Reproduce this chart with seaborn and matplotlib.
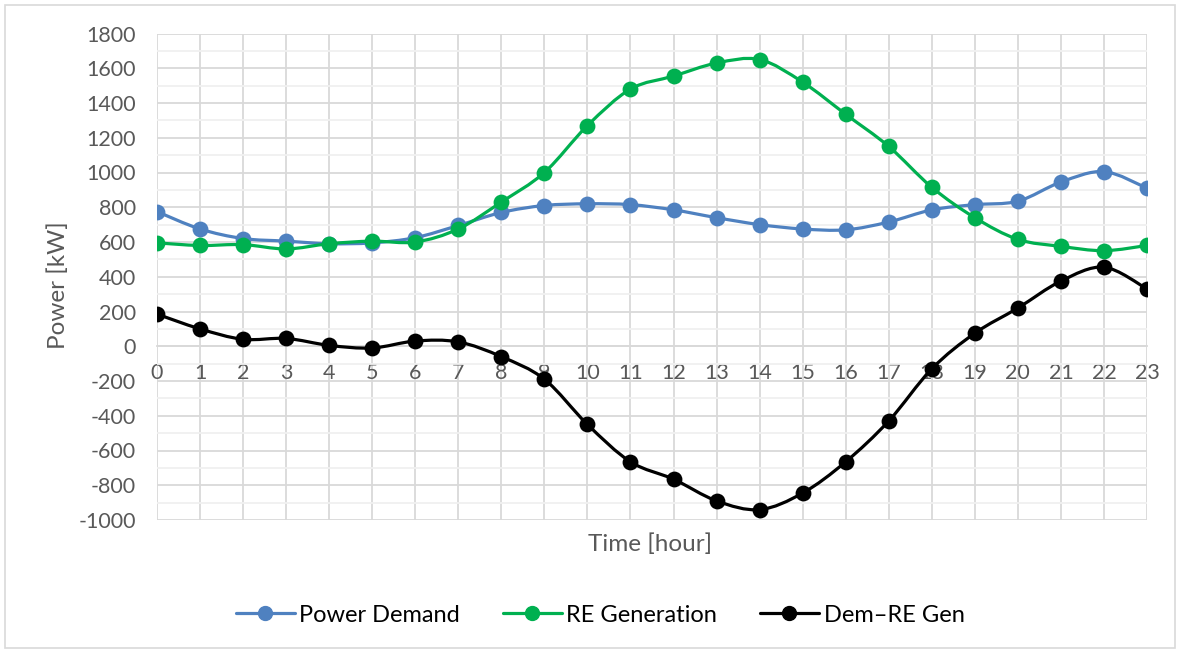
import numpy as np
import pandas as pd
import seaborn as sns
import matplotlib
matplotlib.use("Agg")
import matplotlib.pyplot as plt
from matplotlib.path import Path
from matplotlib.patches import PathPatch, Rectangle
from matplotlib.lines import Line2D
from matplotlib.ticker import MultipleLocator

hours = list(range(24))
power_demand = [775, 675, 620, 605, 590, 595, 625, 695, 770, 810, 820, 815,
                785, 740, 700, 675, 670, 715, 785, 815, 835, 945, 1005, 910]
re_generation = [595, 580, 585, 560, 590, 605, 600, 675, 830, 1000, 1270, 1480,
                 1555, 1630, 1650, 1520, 1335, 1150, 915, 740, 615, 575, 550, 580]
dem_re_gen = [185, 100, 40, 45, 5, -10, 30, 25, -60, -190, -450, -665,
              -765, -890, -940, -845, -665, -430, -130, 75, 220, 375, 455, 330]
series_names = ["Power Demand", "RE Generation", "Dem\u2013RE Gen"]
series_colors = ["#4F81C0", "#00B050", "#000000"]

df = pd.DataFrame({"hour": hours * 3,
                   "value": power_demand + re_generation + dem_re_gen,
                   "series": [series_names[0]] * 24 + [series_names[1]] * 24 + [series_names[2]] * 24})

sns.set_theme(style="white")
plt.rcParams["font.family"] = ["Lato", "DejaVu Sans"]
plt.rcParams["axes.unicode_minus"] = False

fig = plt.figure(figsize=(11.8, 6.53), dpi=100)
ax = fig.add_axes([157 / 1180, 1 - 520 / 653, (1147 - 157) / 1180, (520 - 33.5) / 653])


def smooth_path(xs, ys):
    pts = np.column_stack([xs, ys]).astype(float)
    verts = [tuple(pts[0])]
    codes = [Path.MOVETO]
    n = len(pts)
    for i in range(n - 1):
        p0 = pts[max(i - 1, 0)]
        p1 = pts[i]
        p2 = pts[i + 1]
        p3 = pts[min(i + 2, n - 1)]
        c1 = p1 + (p2 - p0) / 6.0
        c2 = p2 - (p3 - p1) / 6.0
        verts += [tuple(c1), tuple(c2), tuple(p2)]
        codes += [Path.CURVE4] * 3
    return Path(verts, codes)


for k, (name, color) in enumerate(zip(series_names, series_colors)):
    sub = df[df["series"] == name]
    patch = PathPatch(smooth_path(sub["hour"].values, sub["value"].values),
                      facecolor="none", edgecolor=color, lw=2.3, zorder=3 + 2 * k,
                      capstyle="round", joinstyle="round")
    ax.add_patch(patch)
    sns.scatterplot(data=sub, x="hour", y="value", color=color, s=130,
                    edgecolor=color, linewidth=0, zorder=4 + 2 * k, ax=ax, legend=False)

ax.set_xlim(0, 23)
ax.set_ylim(-1000, 1800)
ax.xaxis.set_major_locator(MultipleLocator(1))
ax.yaxis.set_major_locator(MultipleLocator(200))
ax.yaxis.set_minor_locator(MultipleLocator(100))
ax.grid(which="major", color="#D9D9D9", lw=1.3)
ax.grid(which="minor", axis="y", color="#F0F0F0", lw=1.3)
ax.set_axisbelow(True)
for s in ["top", "right", "left"]:
    ax.spines[s].set_visible(False)
ax.spines["bottom"].set_position(("data", 0))
ax.spines["bottom"].set_color("#D9D9D9")
ax.spines["bottom"].set_linewidth(1.3)
ax.spines["bottom"].set_zorder(0.5)
ax.tick_params(axis="x", which="both", length=0, pad=12, labelsize=15.5, labelcolor="#595959")
ax.tick_params(axis="y", which="both", length=0, pad=15, labelsize=15.5, labelcolor="#595959")
ax.set_xticks(hours)
ax.set_xticklabels([str(h) for h in hours])
ax.set_xlabel("")
ax.set_ylabel("")

fig.text(58 / 1180, 1 - 285 / 653, "Power [kW]", rotation=90, ha="center", va="center",
         fontsize=17.5, color="#595959")
fig.text(650 / 1180, 1 - 544 / 653, "Time [hour]", ha="center", va="center",
         fontsize=17.5, color="#595959")

handles = [Line2D([0], [0], color=c, lw=2.3, marker="o", markersize=10) for c in series_colors]
fig.legend(handles, series_names, loc="center", bbox_to_anchor=(600 / 1180, 1 - 615 / 653),
           ncol=3, frameon=False, fontsize=17, handlelength=2.5, handletextpad=0.2,
           columnspacing=1.8, labelcolor="#000000")

fig.patches.append(Rectangle((5 / 1180, 5 / 653), 1170 / 1180, 643 / 653, transform=fig.transFigure,
                             fill=False, edgecolor="#D9D9D9", lw=1.2))

fig.savefig("out.png", dpi=100)
